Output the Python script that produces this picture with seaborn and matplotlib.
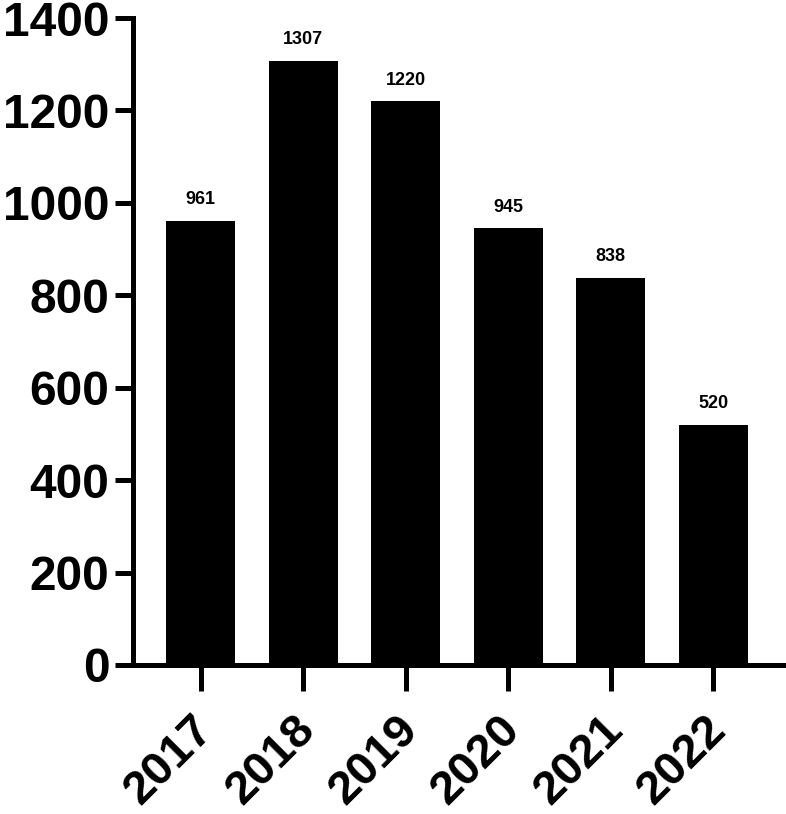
import matplotlib
matplotlib.use("Agg")
import matplotlib.pyplot as plt
import matplotlib.transforms as mtrans
import seaborn as sns
import pandas as pd

years = ["2017", "2018", "2019", "2020", "2021", "2022"]
counts = [961, 1307, 1220, 945, 838, 520]
y_ticks = [0, 200, 400, 600, 800, 1000, 1200, 1400]

sns.set_theme(style="ticks")
plt.rcParams["font.family"] = ["Liberation Sans", "DejaVu Sans"]
plt.rcParams["text.color"] = "black"

df = pd.DataFrame({"year": years, "count": counts})

fig = plt.figure(figsize=(7.86, 8.14), dpi=100)
ax = fig.add_axes([133/786, 1 - 665/814, (783 - 133)/786, (665 - 18)/814])

sns.barplot(data=df, x="year", y="count", color="black", width=0.67,
            saturation=1, ax=ax, edgecolor="black", linewidth=0)

for i, v in enumerate(counts):
    ax.annotate(str(v), (i, v), xytext=(0, 9), textcoords="offset points",
                ha="center", va="bottom", fontsize=13, fontweight="bold",
                color="black")

ax.set_ylim(0, 1400)
ax.set_xlim(-0.66, 5.68)
ax.set_yticks(y_ticks)
ax.set_yticklabels([str(t) for t in y_ticks], fontsize=34.5, fontweight="bold")
ax.set_xticks(range(len(years)))
ax.set_xticklabels(years, fontsize=34, fontweight="bold", rotation=45,
                   ha="right", rotation_mode="anchor")
ax.set_xlabel("")
ax.set_ylabel("")
for s in ["top", "right"]:
    ax.spines[s].set_visible(False)
for s in ["left", "bottom"]:
    ax.spines[s].set_linewidth(3.6)
    ax.spines[s].set_color("black")
ax.tick_params(axis="y", length=13, width=3.6, pad=4, colors="black")
ax.tick_params(axis="x", length=19, width=3.6, pad=8, colors="black")

off = mtrans.ScaledTranslation(-10/100, -5/100, fig.dpi_scale_trans)
for lab in ax.get_xticklabels():
    lab.set_transform(lab.get_transform() + off)

fig.savefig("out.png", dpi=100)
